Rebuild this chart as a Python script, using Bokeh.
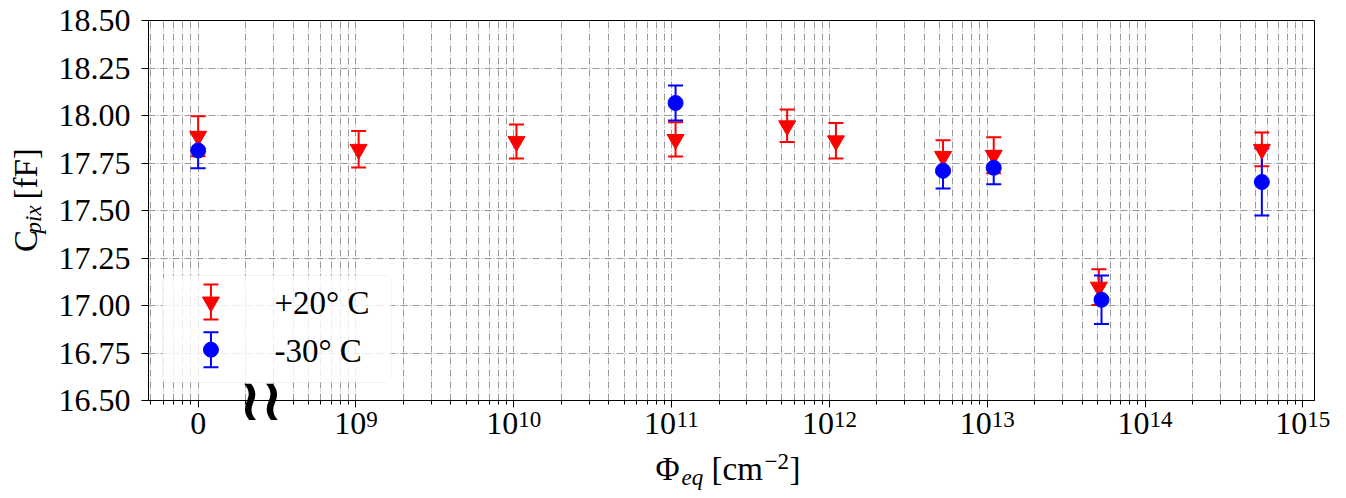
import math
from bokeh.plotting import figure
from bokeh.layouts import row, column
from bokeh.models import (ColumnDataSource, FixedTicker, Range1d, Label,
                          BoxAnnotation, PrintfTickFormatter, LogAxis)
from bokeh.embed import file_html
from bokeh.resources import INLINE

# ---------------- data ----------------
# fluence 1e8 stands for the "0" (unirradiated) position of the broken axis
warm_phi = [1e8, 1.04e9, 1.04e10, 1.06e11, 5.4e11, 1.1e12, 5.25e12, 1.1e13, 5.1e13, 5.5e14]
warm_c   = [17.891, 17.822, 17.863, 17.874, 17.946, 17.867, 17.785, 17.791, 17.097, 17.822]
warm_err = [0.105, 0.096, 0.089, 0.090, 0.086, 0.093, 0.085, 0.095, 0.094, 0.089]

cold_phi = [1e8, 1.06e11, 5.25e12, 1.1e13, 5.3e13, 5.5e14]
cold_c   = [17.816, 18.066, 17.709, 17.725, 17.030, 17.650]
cold_err = [0.093, 0.092, 0.093, 0.087, 0.128, 0.176]

series_labels = ["+20° C", "-30° C"]
series_colors = ["#ff0000", "#0000ff"]

x_major = [1e8, 1e9, 1e10, 1e11, 1e12, 1e13, 1e14, 1e15]
x_exponents = [None, "9", "10", "11", "12", "13", "14", "15"]   # None -> label "0"
y_ticks = [16.5, 16.75, 17.0, 17.25, 17.5, 17.75, 18.0, 18.25, 18.5]

# ---------------- layout (page pixels) ----------------
W, H = 1346, 498
YT_W = 55            # width of the y-title strip
MAIN_H = 448         # height of the main plot canvas
LOG_LO, LOG_HI = 7.6854, 15.074
Y_LO, Y_HI = 16.5, 18.5
FX0, FX1, FY0, FY1 = 147, 1314, 20, 400   # frame position on the page
DEC = (FX1 - FX0) / (LOG_HI - LOG_LO)

def dx(px):
    return 10 ** (LOG_LO + (px - FX0) / DEC)

def dy(py):
    return Y_HI - (py - FY0) / (FY1 - FY0) * (Y_HI - Y_LO)

SERIF = "Liberation Serif"
TICK_PX = 32
SUP_PX = 23
MID = 0.33           # middle of a text line above its baseline, in em

p = figure(width=W - YT_W, height=MAIN_H, x_axis_type="log",
           x_range=Range1d(10 ** LOG_LO, 10 ** LOG_HI),
           y_range=Range1d(Y_LO, Y_HI),
           output_backend="svg", toolbar_location=None,
           min_border_left=FX0 - YT_W, min_border_right=W - FX1,
           min_border_top=FY0, min_border_bottom=MAIN_H - FY1)
p.background_fill_color = "white"
p.border_fill_color = "white"
p.outline_line_color = "black"
p.outline_line_width = 1

minor = [m * 10 ** e for e in range(7, 16) for m in range(2, 10)
         if 10 ** LOG_LO <= m * 10 ** e <= 10 ** LOG_HI]
xt = FixedTicker(ticks=x_major, minor_ticks=minor)
yt = FixedTicker(ticks=y_ticks, minor_ticks=[])
p.xaxis.ticker = xt
p.xgrid.ticker = xt
p.yaxis.ticker = yt
p.ygrid.ticker = yt
p.yaxis.formatter = PrintfTickFormatter(format="%.2f")

for ax in (p.xaxis, p.yaxis):
    ax.major_label_text_font = SERIF
    ax.major_label_text_color = "black"
    ax.axis_line_color = "black"
    ax.major_tick_line_color = "black"
    ax.minor_tick_line_color = "black"
    ax.major_tick_out = 7
    ax.major_tick_in = 0
    ax.minor_tick_out = 4
    ax.minor_tick_in = 0
p.yaxis.major_label_text_font_size = f"{TICK_PX}px"
p.yaxis.minor_tick_line_color = None
p.yaxis.major_label_standoff = 11
# the main x axis keeps ticks only; its labels are drawn by the label axes below
p.xaxis.major_label_text_color = None
p.xaxis.major_label_standoff = 0
p.xaxis.major_label_text_font_size = "1px"

GRID = "#9a9a9a"
DASH = "7 2 1 2"
p.xgrid.grid_line_color = GRID
p.xgrid.grid_line_dash = DASH
p.xgrid.grid_line_width = 1
p.xgrid.minor_grid_line_color = GRID
p.xgrid.minor_grid_line_dash = DASH
p.xgrid.minor_grid_line_width = 1
p.ygrid.grid_line_color = GRID
p.ygrid.grid_line_dash = DASH
p.ygrid.grid_line_width = 1

# ---------------- label-only axes stacked below the main x axis ----------------
def label_axis(ticks, texts, size, standoff, font=SERIF, style="normal"):
    ax = LogAxis(ticker=FixedTicker(ticks=list(ticks), minor_ticks=[]),
                 major_label_overrides={t: s for t, s in zip(ticks, texts)},
                 axis_line_color=None, major_tick_line_color=None,
                 minor_tick_line_color=None, major_tick_out=0, major_tick_in=0,
                 minor_tick_out=0, minor_tick_in=0,
                 major_label_standoff=standoff, major_label_text_font=font,
                 major_label_text_font_size=f"{size}px",
                 major_label_text_font_style=style,
                 major_label_text_color="black")
    p.add_layout(ax, "below")
    return ax

NBSP = "\u00a0"
base_ticks, base_texts, exp_ticks, exp_texts = [], [], [], []
for t, e in zip(x_major, x_exponents):
    lg = math.log10(t)
    if e is None:
        base_ticks.append(t)
        base_texts.append("0")
        continue
    wtot = TICK_PX + 0.5 * SUP_PX * len(e)
    base_ticks.append(10 ** (lg + (-wtot / 2 + TICK_PX / 2) / DEC))
    base_texts.append("10")
    # centre of the exponent, in page pixels
    cx = FX0 + (lg - LOG_LO) * DEC - wtot / 2 + TICK_PX + 0.25 * SUP_PX * len(e)
    pad = ""
    if cx > FX1 - 2:             # keep the tick inside the range, pad on the left
        n = int(round(2 * (cx - (FX1 - 2)) / (0.25 * SUP_PX)))
        pad = NBSP * n
        cx = cx - n * 0.25 * SUP_PX / 2
    exp_ticks.append(dx(cx))
    exp_texts.append(pad + e)

# panel stacking: main axis (7px), break mark, "0"/"10"s, exponents
label_axis([dx(259.5)], ["≀≀"], 58, -42, font="DejaVu Sans", style="bold")
label_axis(base_ticks, base_texts, TICK_PX, -24)
label_axis(exp_ticks, exp_texts, SUP_PX, -30)

# ---------------- error bars and markers ----------------
def make_src(x, y, e):
    return ColumnDataSource(dict(x=x, y=y,
                                 lo=[a - b for a, b in zip(y, e)],
                                 hi=[a + b for a, b in zip(y, e)]))

warm = make_src(warm_phi, warm_c, warm_err)
cold = make_src(cold_phi, cold_c, cold_err)

leg_x = dx(209.5)
leg_half = dy(284) - dy(301.5)
leg_warm = make_src([leg_x], [dy(301.5)], [leg_half])
leg_cold = make_src([leg_x], [dy(349.2)], [leg_half])

def bars(src, color):
    p.segment(x0="x", y0="lo", x1="x", y1="hi", source=src, line_color=color, line_width=2)
    p.scatter(x="x", y="lo", source=src, marker="dash", size=15, line_color=color, line_width=2)
    p.scatter(x="x", y="hi", source=src, marker="dash", size=15, line_color=color, line_width=2)

bars(warm, series_colors[0])
bars(cold, series_colors[1])
bars(leg_warm, series_colors[0])
bars(leg_cold, series_colors[1])
for src in (warm, leg_warm):
    p.scatter(x="x", y="y", source=src, marker="inverted_triangle", size=17,
              fill_color=series_colors[0], line_color=series_colors[0])
for src in (cold, leg_cold):
    p.scatter(x="x", y="y", source=src, marker="circle", size=15,
              fill_color=series_colors[1], line_color=series_colors[1])

# ---------------- legend box and texts ----------------
box = BoxAnnotation(left=dx(161), right=dx(390), top=dy(275), bottom=dy(382),
                    fill_color="white", fill_alpha=0.8, line_color="#d4d4d4",
                    line_width=1, border_radius=6, level="underlay")
p.add_layout(box)

for txt, base in zip(series_labels, (313, 361)):
    p.add_layout(Label(x=dx(273), y=dy(base - MID * 33), text=txt, text_font=SERIF,
                       text_font_size="33px", text_color="black",
                       text_align="left", text_baseline="middle"))

# ---------------- axis titles in their own strips ----------------
def strip(w, h):
    f = figure(width=w, height=h, x_range=Range1d(0, w), y_range=Range1d(h, 0),
               output_backend="svg", toolbar_location=None,
               x_axis_location=None, y_axis_location=None,
               min_border=0, min_border_left=0, min_border_right=0,
               min_border_top=0, min_border_bottom=0)
    f.grid.visible = False
    f.outline_line_color = None
    f.background_fill_color = "white"
    f.border_fill_color = "white"
    return f

def tlab(fig, x, y, text, size, italic=False, rotated=False):
    """(x, y): baseline start in strip pixels (y down)."""
    if rotated:
        x = x - MID * size
    else:
        y = y - MID * size
    fig.add_layout(Label(x=x, y=y, text=text, text_font=SERIF,
                         text_font_size=f"{size}px",
                         text_font_style="italic" if italic else "normal",
                         text_color="black", angle=math.pi / 2 if rotated else 0.0,
                         angle_units="rad", text_align="left", text_baseline="middle"))

# y title: C_pix [fF]  (strip at page x=0, y=0)
yt_fig = strip(YT_W, MAIN_H)
tlab(yt_fig, 36, 273, "C", 33, rotated=True)
tlab(yt_fig, 41, 251, "pix", 23, italic=True, rotated=True)
tlab(yt_fig, 36, 211, "[fF]", 33, rotated=True)

# x title: Φ_eq [cm^-2]  (strip starts at page y=MAIN_H)
xt_fig = strip(W, H - MAIN_H)
oy = MAIN_H
tlab(xt_fig, 655, 479 - oy, "Φ", 33)
tlab(xt_fig, 681, 485 - oy, "eq", 23, italic=True)
tlab(xt_fig, 711, 479 - oy, "[cm", 33)
tlab(xt_fig, 764, 469 - oy, "−2", 23)
tlab(xt_fig, 789, 479 - oy, "]", 33)

layout = column(row(yt_fig, p), xt_fig)
open("out.html", "w").write(file_html(layout, INLINE))
